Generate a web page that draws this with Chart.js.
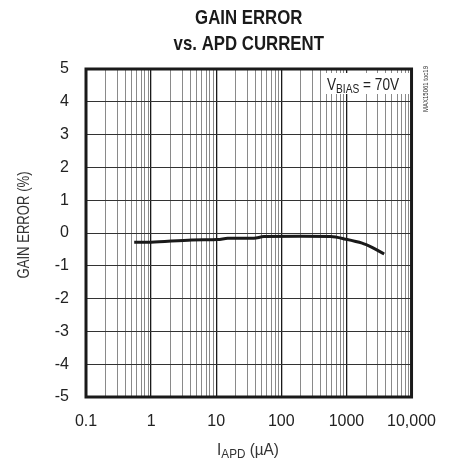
<!DOCTYPE html>
<html>
<head>
<meta charset="utf-8">
<script src="https://cdn.jsdelivr.net/npm/chart.js@4/dist/chart.umd.min.js"></script>
<style>
  body { margin: 0; background: #fff; }
  #wrap { width: 451px; height: 459px; }
</style>
</head>
<body>
<div id="wrap"><canvas id="gainChart" width="451" height="459"></canvas></div>
<script>
// values
const currentUA = [0.55, 1.0, 4.2, 10.5, 15, 38, 54, 576, 970, 1740, 2470, 3800];
const gainErrorPct = [-0.28, -0.28, -0.21, -0.2, -0.16, -0.16, -0.11, -0.11, -0.19, -0.31, -0.44, -0.64];

const xDecades = [0.1, 1, 10, 100, 1000, 10000];
const xTickLabels = ['0.1', '1', '10', '100', '1000', '10,000'];
const yTicks = [-5, -4, -3, -2, -1, 0, 1, 2, 3, 4, 5];

const FONT = "'Liberation Sans', Arial, sans-serif";

// every 1..9 step of each decade gets a grid line
const xGridValues = [];
xDecades.forEach((d, i) => {
    if (i === xDecades.length - 1) { xGridValues.push(d); return; }
    for (let k = 1; k <= 9; k++) xGridValues.push(+(d * k).toPrecision(3));
});

const isDecade = v => xDecades.some(d => Math.abs(d - v) < d * 1e-6);

// draws text squeezed horizontally, to look like the condensed face of the original
function narrowText(ctx, text, x, y, sx) {
    ctx.save();
    ctx.translate(x, y);
    ctx.scale(sx, 1);
    ctx.fillText(text, 0, 0);
    ctx.restore();
    return ctx.measureText(text).width * sx;
}

const decorPlugin = {
    id: 'decor',
    afterDatasetsDraw(chart) {
        const ctx = chart.ctx;
        const a = chart.chartArea;
        ctx.save();

        // frame
        ctx.strokeStyle = '#1a1a1a';
        ctx.lineWidth = 3;
        ctx.strokeRect(a.left, a.top, a.right - a.left, a.bottom - a.top);

        // VBIAS label box
        ctx.fillStyle = '#fff';
        ctx.fillRect(325, 73, 84, 21);
        ctx.fillStyle = '#222';
        ctx.textBaseline = 'alphabetic';
        ctx.textAlign = 'left';
        let x = 327;
        ctx.font = '16px ' + FONT;
        x += narrowText(ctx, 'V', x, 90, 0.85);
        ctx.font = '12px ' + FONT;
        x += narrowText(ctx, 'BIAS', x, 93, 0.85);
        ctx.font = '16px ' + FONT;
        narrowText(ctx, ' = 70V', x, 90, 0.85);

        ctx.restore();
    },
    afterDraw(chart) {
        const ctx = chart.ctx;
        const a = chart.chartArea;
        const cx = (a.left + a.right) / 2;
        ctx.save();

        // title
        ctx.fillStyle = '#1a1a1a';
        ctx.textAlign = 'center';
        ctx.textBaseline = 'middle';
        ctx.font = 'bold 21px ' + FONT;
        narrowText(ctx, 'GAIN ERROR', cx, 18, 0.8);
        narrowText(ctx, 'vs. APD CURRENT', cx, 44, 0.8);

        // y title
        ctx.fillStyle = '#333';
        ctx.font = '16px ' + FONT;
        ctx.save();
        ctx.translate(25, 225);
        ctx.rotate(-Math.PI / 2);
        narrowText(ctx, 'GAIN ERROR (%)', 0, 0, 0.82);
        ctx.restore();

        // x title with subscript
        ctx.textAlign = 'left';
        ctx.textBaseline = 'alphabetic';
        const sx = 0.9;
        const parts = [['I', '17px', 0], ['APD', '13px', 3], [' (\u00b5A)', '17px', 0]];
        let w = 0;
        parts.forEach(p => { ctx.font = p[1] + ' ' + FONT; w += ctx.measureText(p[0]).width * sx; });
        let x = 248 - w / 2;
        parts.forEach(p => {
            ctx.font = p[1] + ' ' + FONT;
            x += narrowText(ctx, p[0], x, 455 + p[2], sx);
        });

        // side note
        ctx.fillStyle = '#333';
        ctx.font = '8px ' + FONT;
        ctx.textAlign = 'center';
        ctx.textBaseline = 'middle';
        ctx.translate(426, 89);
        ctx.rotate(-Math.PI / 2);
        narrowText(ctx, 'MAX15061 toc19', 0, 0, 0.75);

        ctx.restore();
    }
};

const ctx = document.getElementById('gainChart').getContext('2d');
new Chart(ctx, {
    type: 'line',
    data: {
        datasets: [{
            data: currentUA.map((v, i) => ({ x: v, y: gainErrorPct[i] })),
            borderColor: '#1a1a1a',
            borderWidth: 3,
            pointRadius: 0,
            tension: 0.3,
            fill: false
        }]
    },
    options: {
        responsive: false,
        animation: false,
        layout: { padding: { top: 69, right: 34, left: 0, bottom: 0 } },
        plugins: {
            legend: { display: false },
            tooltip: { enabled: false },
            title: { display: false }
        },
        scales: {
            x: {
                type: 'logarithmic',
                min: 0.1,
                max: 10000,
                afterFit: s => { s.height = 62; },
                afterBuildTicks: s => { s.ticks = xGridValues.map(v => ({ value: v })); },
                grid: {
                    drawTicks: false,
                    color: c => isDecade(c.tick.value) ? '#1a1a1a' : '#8a8a8a',
                    lineWidth: c => isDecade(c.tick.value) ? 1.3 : 1
                },
                border: { display: false },
                ticks: {
                    autoSkip: false,
                    maxRotation: 0,
                    padding: 15,
                    color: '#222',
                    font: { family: FONT, size: 16 },
                    callback: v => {
                        const i = xDecades.findIndex(d => Math.abs(d - v) < d * 1e-6);
                        return i >= 0 ? xTickLabels[i] : '';
                    }
                }
            },
            y: {
                min: -5,
                max: 5,
                afterFit: s => { s.width = 86; },
                afterBuildTicks: s => { s.ticks = yTicks.map(v => ({ value: v })); },
                grid: { drawTicks: false, color: '#333', lineWidth: 1 },
                border: { display: false },
                ticks: {
                    padding: 17,
                    color: '#222',
                    font: { family: FONT, size: 16 }
                }
            }
        }
    },
    plugins: [decorPlugin]
});
</script>
</body>
</html>
